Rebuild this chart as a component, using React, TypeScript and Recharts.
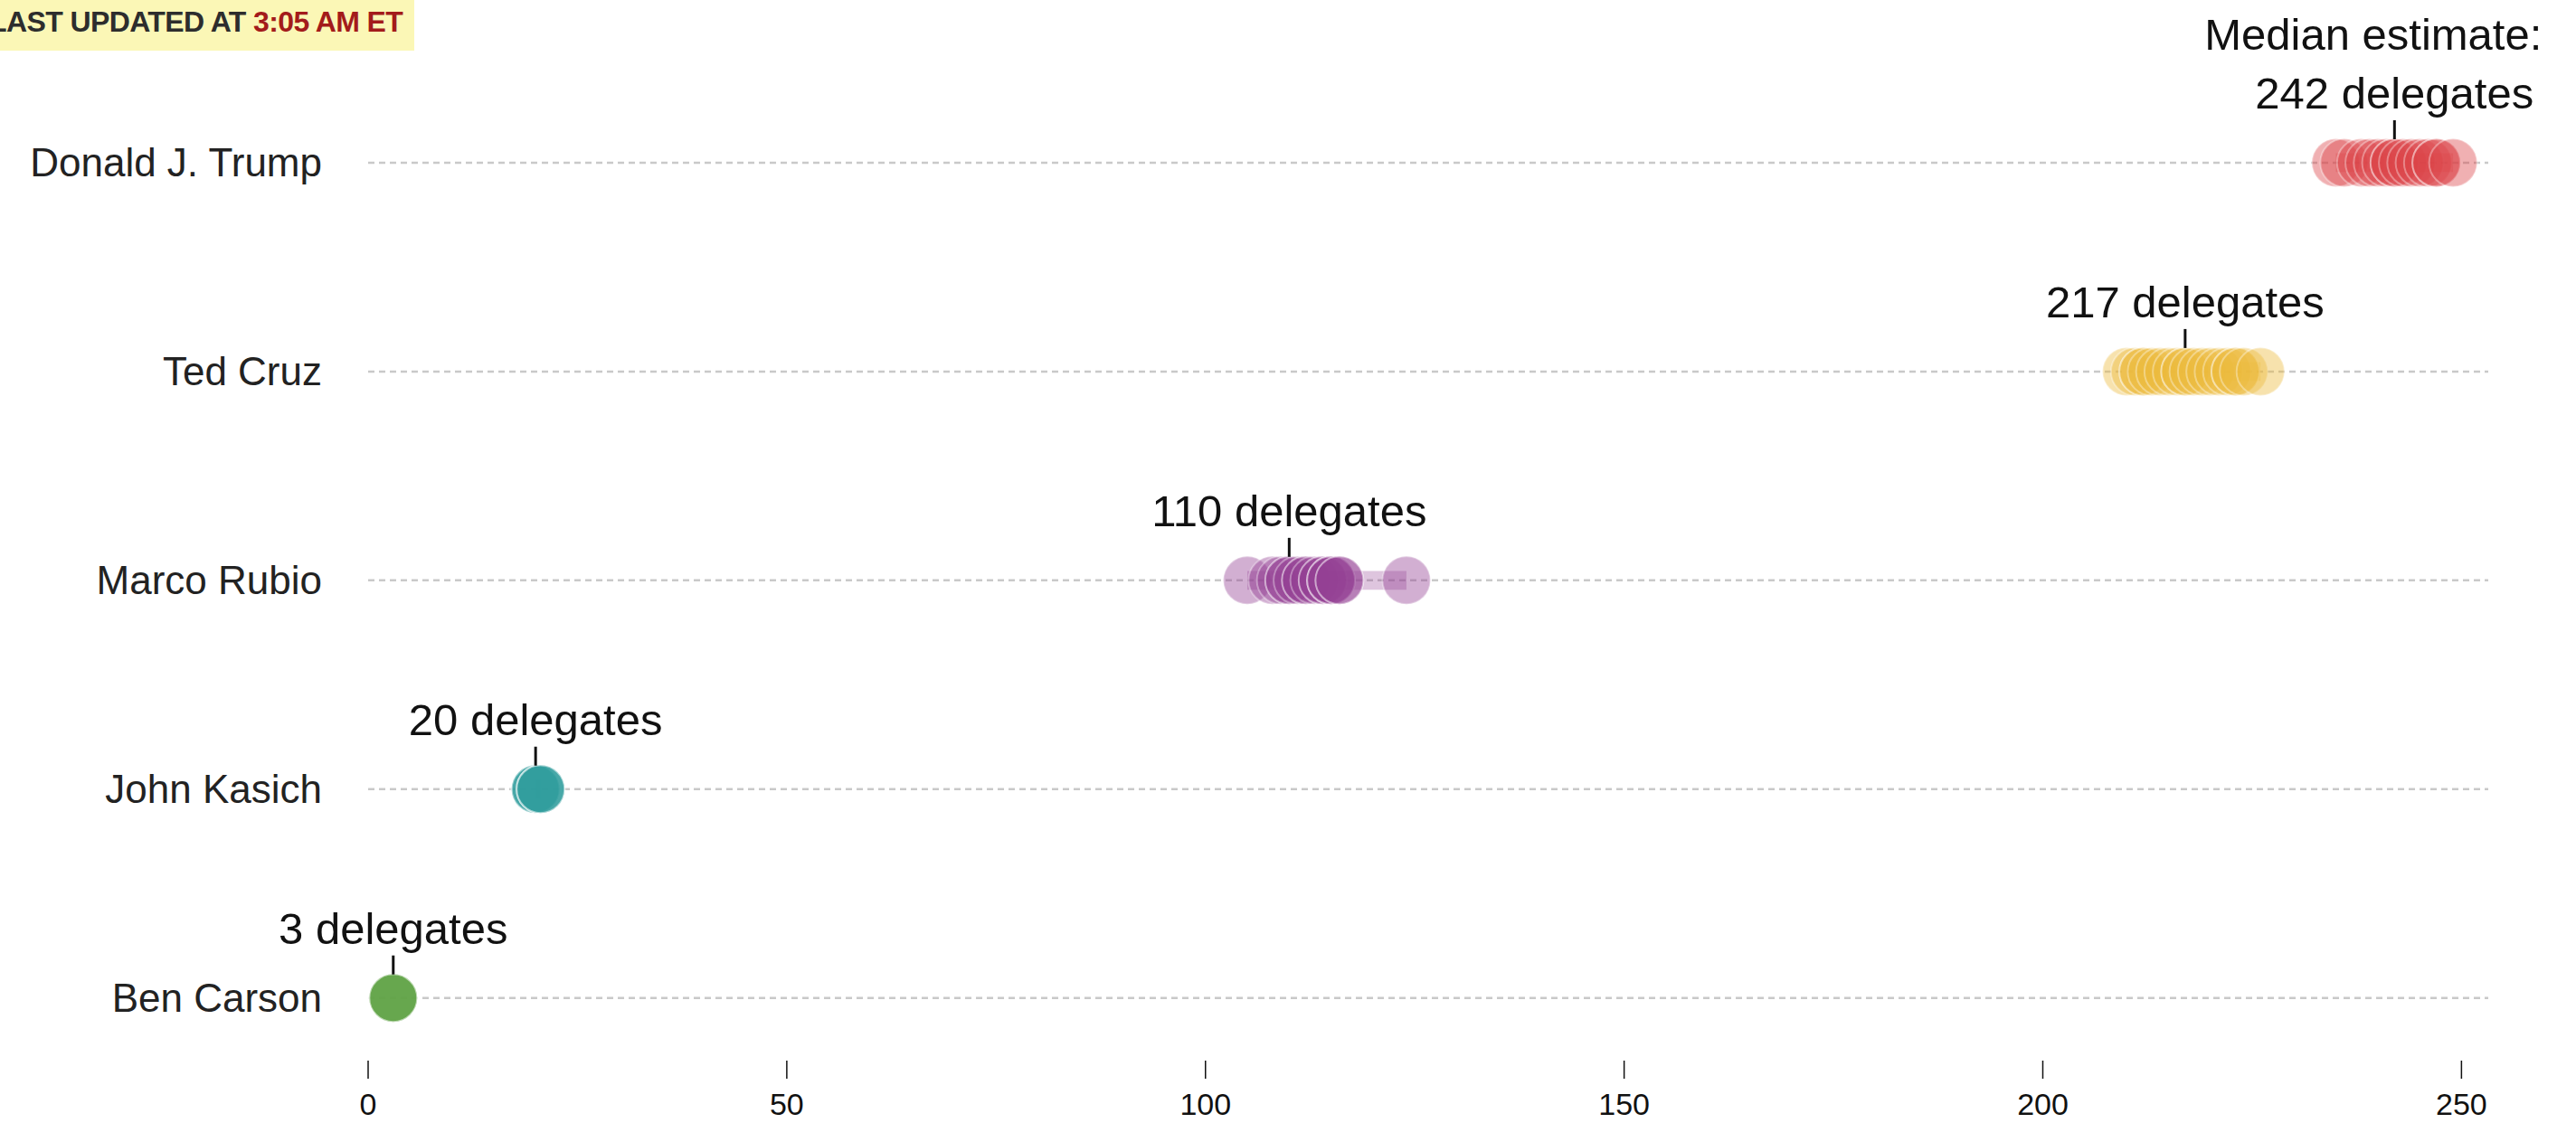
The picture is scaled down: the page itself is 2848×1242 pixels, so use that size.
import React from "react";
import {
  ScatterChart,
  Scatter,
  XAxis,
  YAxis,
  CartesianGrid,
  ReferenceArea,
} from "recharts";

const candidates = ["Donald J. Trump", "Ted Cruz", "Marco Rubio", "John Kasich", "Ben Carson"];
const colors = ["#dc4347", "#ebbb3c", "#934093", "#2f9e9e", "#62a447"];
const medians = [242, 217, 110, 20, 3];

const trumpSims = [235, 236, 238, 239, 240, 241, 242, 242, 243, 244, 245, 246, 247, 247, 249];
const cruzSims = [210, 211, 212, 212, 213, 214, 215, 216, 217, 217, 218, 219, 220, 221, 222, 223, 223, 224, 226];
const rubioSims = [105, 108, 109, 110, 110, 111, 112, 112, 113, 114, 114, 115, 115, 115, 116, 116, 124];
const kasichSims = [20, 20, 20, 20, 20.6, 20.6, 20.6, 20.6];
const carsonSims = [3, 3, 3, 3, 3, 3];

const xTicks = [0, 50, 100, 150, 200, 250];
const rowTicks = [0, 1, 2, 3, 4];

const sims = [trumpSims, cruzSims, rubioSims, kasichSims, carsonSims];

const FONT = "'Liberation Sans', Arial, Helvetica, sans-serif";

const NameTick = ({ y, payload }: any) => (
  <text
    x={356}
    y={y}
    textAnchor="end"
    dominantBaseline="central"
    fontSize={44}
    fontFamily={FONT}
    fill="#222"
  >
    {candidates[payload.value]}
  </text>
);

const makeDot = (color: string) => (props: any) => (
  <circle
    cx={props.cx}
    cy={props.cy}
    r={26.5}
    fill={color}
    fillOpacity={0.42}
    stroke="#ffffff"
    strokeOpacity={0.35}
    strokeWidth={2}
  />
);

const MedianLabel = (props: any) => {
  const { cx, cy, payload } = props;
  return (
    <g>
      <line x1={cx} x2={cx} y1={cy - 47} y2={cy - 26} stroke="#111" strokeWidth={3} />
      <text
        x={cx}
        y={cy - 60}
        textAnchor="middle"
        fontSize={49}
        fontFamily={FONT}
        fill="#111"
      >
        {`${payload.x} delegates`}
      </text>
      {payload.y === 0 && (
        <text
          x={cx + 163}
          y={cy - 125}
          textAnchor="end"
          fontSize={49}
          fontFamily={FONT}
          fill="#111"
        >
          Median estimate:
        </text>
      )}
    </g>
  );
};

export default function App() {
  const medianData = medians.map((m, i) => ({ x: m, y: i }));

  return (
    <div style={{ position: "absolute", left: 0, top: 0, width: 2848, height: 1242, background: "#fff" }}>
      <ScatterChart
        width={2848}
        height={1242}
        margin={{ top: 64.5, right: 97, bottom: 0, left: 0 }}
      >
        <CartesianGrid
          vertical={false}
          horizontalValues={rowTicks}
          stroke="#c9c9c9"
          strokeWidth={2.5}
          strokeDasharray="7 5"
        />
        <XAxis
          type="number"
          dataKey="x"
          domain={[0, 253.2]}
          ticks={xTicks}
          height={69}
          axisLine={false}
          tickLine={{ stroke: "#111", strokeWidth: 1.5 }}
          tickSize={20}
          tickMargin={16}
          tick={{ fontSize: 34, fill: "#111", fontFamily: FONT }}
        />
        <YAxis
          type="number"
          dataKey="y"
          domain={[-0.5, 4.3]}
          ticks={rowTicks}
          reversed
          width={407}
          axisLine={false}
          tickLine={false}
          tick={<NameTick />}
        />
        {sims.map((vals, i) =>
          Math.max(...vals) > Math.min(...vals) ? (
            <ReferenceArea
              key={`band-${i}`}
              x1={Math.min(...vals)}
              x2={Math.max(...vals)}
              y1={i - 0.045}
              y2={i + 0.045}
              fill={colors[i]}
              fillOpacity={0.3}
              stroke="none"
              ifOverflow="visible"
            />
          ) : null
        )}
        {sims.map((vals, i) => (
          <Scatter
            key={candidates[i]}
            name={candidates[i]}
            data={vals.map((v) => ({ x: v, y: i }))}
            shape={makeDot(colors[i])}
            isAnimationActive={false}
          />
        ))}
        <Scatter
          name="median"
          data={medianData}
          shape={<MedianLabel />}
          isAnimationActive={false}
        />
      </ScatterChart>
      <div
        style={{
          position: "absolute",
          left: 0,
          top: 0,
          width: 458,
          height: 56,
          background: "#fbf7b6",
          overflow: "hidden",
        }}
      >
        <div
          style={{
            position: "absolute",
            left: -12,
            top: 7,
            whiteSpace: "nowrap",
            fontFamily: FONT,
            fontWeight: 700,
            fontSize: 32,
            lineHeight: "34px",
            color: "#2d2d2d",
            letterSpacing: -0.6,
          }}
        >
          LAST UPDATED AT <span style={{ color: "#a31b1b" }}>3:05 AM ET</span>
        </div>
      </div>
    </div>
  );
}
